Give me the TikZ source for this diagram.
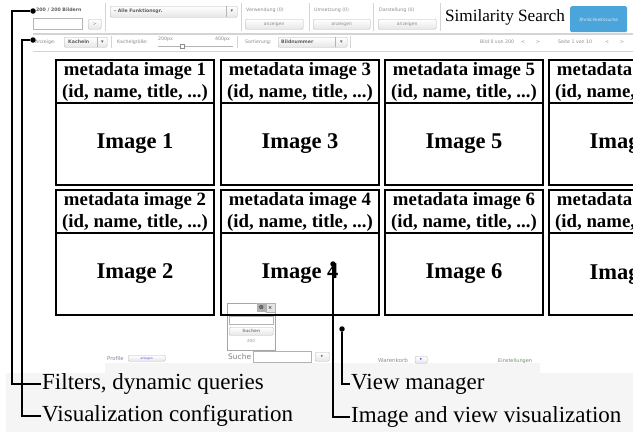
\documentclass[tikz,border=0pt]{standalone}
\usepackage{fontspec}
\setmainfont{Liberation Serif}
\newfontfamily\uifont{DejaVu Sans}
\usetikzlibrary{positioning}
\definecolor{uigris}{HTML}{8C8C8C}
\definecolor{uifonce}{HTML}{5E5E5E}
\definecolor{uitrait}{HTML}{B4B4B4}
\definecolor{uiligne}{HTML}{D4D4D4}
\definecolor{uiclair}{HTML}{E6E6E6}
\definecolor{uibleu}{HTML}{4BA4DA}
\definecolor{uibleugris}{HTML}{7D8AA5}
\definecolor{uivert}{HTML}{6F8A6F}
\definecolor{fond}{HTML}{F5F5F5}

\begin{document}
\begin{tikzpicture}[x=1pt,y=-1pt]
	\tikzset{texteui/.style={anchor=west, inner sep=0pt, font=\uifont\fontsize{4.7}{5.5}\selectfont, text=uigris},
	gras/.style={font=\uifont\bfseries\fontsize{4.7}{5.5}\selectfont, text=uifonce},
	bouton/.style={draw=uitrait, rounded corners=1.2pt, top color=white, bottom color=uiclair, anchor=north west, inner sep=0pt, font=\uifont\fontsize{4.5}{5}\selectfont, text=uigris},
	champ/.style={draw=uitrait, fill=white, anchor=north west, inner sep=0pt},
	fleche liste/.style={inner sep=0pt, font=\uifont\fontsize{5}{5}\selectfont, text=uifonce},
	separateur/.style={draw=uiligne, line width=0.6pt},
	tuile/.style={draw=black, line width=1.2pt, inner sep=0pt, outer sep=0pt, minimum width=158pt, align=center},
	entete/.style={tuile, anchor=north west, minimum height=43pt, font=\bfseries\fontsize{18.8}{22}\selectfont},
	vignette/.style={tuile, minimum height=82pt, font=\bfseries\fontsize{22.5}{26}\selectfont},
	pastille/.style={circle, fill=black, inner sep=0pt, minimum size=5.5pt},
	repere/.style={line width=2.6pt},
	legende/.style={anchor=west, inner sep=1pt, font=\fontsize{23}{27}\selectfont}};

	\useasboundingbox (0,0) rectangle (633,432);
	\clip (0,0) rectangle (633,432);
	\fill[white] (0,0) rectangle (633,432);
	\fill[fond] (6,373) -- (105,373) -- (105,363) -- (540,363) -- (540,373) -- (633,373) -- (633,432) -- (6,432) -- cycle;

	% barre de filtres
	\node[texteui, gras] (nbimages) at (36,10) {200 / 200 Bildern};
	\node[champ, minimum width=49pt, minimum height=11pt] (recherche) at (33,18) {};
	\node[bouton, minimum width=13pt, minimum height=10pt] (ok) at (88,19) {>};
	\draw[separateur] (105,3) -- (105,31);
	\node[bouton, minimum width=127pt, minimum height=11pt] (fonctions) at (110,6) {};
	\node[texteui, gras] (fonctionstxt) at ([xshift=4pt]fonctions.west) {- Alle Funktionsgr.};
	\draw[uitrait] ([xshift=-11pt]fonctions.north east) -- ([xshift=-11pt]fonctions.south east);
	\node[fleche liste] (fonctionsfl) at ([xshift=-5.5pt]fonctions.east) {▾};
	\draw[separateur] (241,3) -- (241,31);

	\foreach \nom/\x/\texte/\larg in {verw/245/Verwendung (0)/58, umsetz/313/Umsetzung (0)/57, darst/378/Darstellung (0)/58}{
		\node[texteui] (\nom) at (\x+1,10) {\texte};
		\node[bouton, minimum width=\larg pt, minimum height=10pt] (\nom btn) at (\x,19) {anzeigen};
	}
	\draw[separateur] (309,3) -- (309,31);
	\draw[separateur] (373,3) -- (373,31);
	\draw[separateur] (440,3) -- (440,31);

	\node[inner sep=0pt, font=\fontsize{17.2}{20}\selectfont] (titre) at (505,17) {Similarity Search};
	\node[fill=uibleu, rounded corners=1.5pt, anchor=north west, minimum width=57pt, minimum height=26pt, inner sep=0pt, font=\uifont\fontsize{4.3}{5}\selectfont, text=white!80!uibleu] (aehnlich) at (570,6) {Ähnlichkeitssuche};

	\draw[uiligne, line width=1.5pt] (33,34) -- (633,34);

	% barre d'affichage
	\node[texteui] (anzeige) at (35,42) {Anzeige:};
	\node[bouton, minimum width=43pt, minimum height=10pt] (kacheln) at (64,37) {};
	\node[texteui, gras] (kachelntxt) at ([xshift=4pt]kacheln.west) {Kacheln};
	\draw[uitrait] ([xshift=-10pt]kacheln.north east) -- ([xshift=-10pt]kacheln.south east);
	\node[fleche liste] (kachelnfl) at ([xshift=-5pt]kacheln.east) {▾};
	\draw[separateur] (111,36) -- (111,48);
	\node[texteui] (groesse) at (117,42) {Kachelgröße:};
	\node[texteui] (min) at (158,39) {200px};
	\node[texteui] (max) at (215,39) {400px};
	\draw[uitrait, line width=0.8pt] (158,46) -- (233,46);
	\node[draw=uigris, fill=white, inner sep=0pt, minimum width=3.5pt, minimum height=4pt] (curseur) at (182,46) {};
	\draw[separateur] (237,36) -- (237,48);
	\node[texteui] (sortierung) at (245,42) {Sortierung:};
	\node[bouton, minimum width=69pt, minimum height=10pt] (tri) at (278,37) {};
	\node[texteui, gras] (tritxt) at ([xshift=3pt]tri.west) {Bildnummer};
	\draw[uitrait] ([xshift=-12pt]tri.north east) -- ([xshift=-12pt]tri.south east);
	\node[fleche liste] (trifl) at ([xshift=-6pt]tri.east) {▾};
	\draw[separateur] (350,36) -- (350,48);
	\node[texteui] (bild) at (480,42) {Bild 0 von 200};
	\node[texteui] (bildav) at (521,42) {<};
	\node[texteui] (bildap) at (536,42) {>};
	\node[texteui] (seite) at (558,42) {Seite 1 von 10};
	\node[texteui] (seiteav) at (605,42) {<};
	\node[texteui] (seiteap) at (620,42) {>};

	\draw[uiligne, line width=0.8pt] (33,51) -- (633,51);

	% fenetre de recherche
	\node[draw=gray!70, fill=white, anchor=north west, minimum width=48pt, minimum height=47pt, inner sep=0pt] (fenetre) at (227,303) {};
	\node[fill=gray!60, anchor=north east, minimum size=9pt, inner sep=0pt, font=\uifont\fontsize{6}{6}\selectfont] (icone) at (266,303) {⊜};
	\node[draw=gray!60, fill=gray!20, anchor=north east, minimum size=9pt, inner sep=0pt, font=\uifont\fontsize{5}{5}\selectfont] (fermer) at (275,303) {×};
	\node[champ, minimum width=44pt, minimum height=8pt] (saisie) at (229,316) {};
	\node[bouton, minimum width=44pt, minimum height=8pt, font=\uifont\bfseries\fontsize{4.3}{5}\selectfont] (suchen) at (229,327) {Suchen};
	\node[texteui, anchor=center, font=\uifont\fontsize{4}{5}\selectfont] (compte) at (251,341) {200};

	% vignettes
	\foreach \col/\x in {0/56,1/221,2/385,3/549}{
		\foreach \ligne/\y in {0/60,1/190}{
			\pgfmathtruncatemacro{\n}{2*\col+\ligne+1}
			\node[entete] (meta\n) at (\x,\y) {metadata image \n\\(id, name, title, ...)};
			\node[vignette, below=0pt of meta\n] (img\n) {Image \n};
		}
	}

	% barre du bas
	\node[texteui, text=uibleugris, font=\uifont\fontsize{5.3}{6}\selectfont] (profile) at (107,359) {Profile};
	\node[bouton, minimum width=37pt, minimum height=6pt, font=\uifont\fontsize{3}{3}\selectfont, text=blue!70] (anlegen) at (128,355) {anlegen};
	\node[texteui, text=gray, font=\uifont\fontsize{7.5}{8}\selectfont] (suche) at (228,357) {Suche};
	\node[champ, draw=gray!60, minimum width=58pt, minimum height=11pt] (suchfeld) at (253,351) {};
	\node[bouton, minimum width=14pt, minimum height=9pt, text=blue!70] (suchok) at (315,352) {▸};
	\node[texteui, font=\uifont\fontsize{5.5}{6}\selectfont] (warenkorb) at (378,360) {Warenkorb};
	\node[bouton, minimum width=12pt, minimum height=7pt, text=blue!70] (korbok) at (415,356) {▸};
	\node[texteui, text=uivert, font=\uifont\fontsize{5}{6}\selectfont] (einst) at (498,361) {Einstellungen};

	% reperes et legendes
	\node[pastille] (pfiltre) at (33,11) {};
	\node[pastille] (pconfig) at (33,40) {};
	\node[pastille] (pimage) at (333,264) {};
	\node[pastille] (pvue) at (342,329) {};
	\coordinate (cfiltre) at (12,11);
	\coordinate (cconfig) at (22,40);

	\node[legende] (filtres) at (41,384) {Filters, dynamic queries};
	\node[legende] (config) at (41,416) {Visualization configuration};
	\node[legende] (gestion) at (350,384) {View manager};
	\node[legende] (visu) at (350,417) {Image and view visualization};

	\draw[repere] (pfiltre) -- (cfiltre) |- (filtres.west);
	\draw[repere] (pconfig) -- (cconfig) |- (config.west);
	\draw[repere] (pimage) |- (visu.west);
	\draw[repere] (pvue) |- (gestion.west);

\end{tikzpicture}
\end{document}
